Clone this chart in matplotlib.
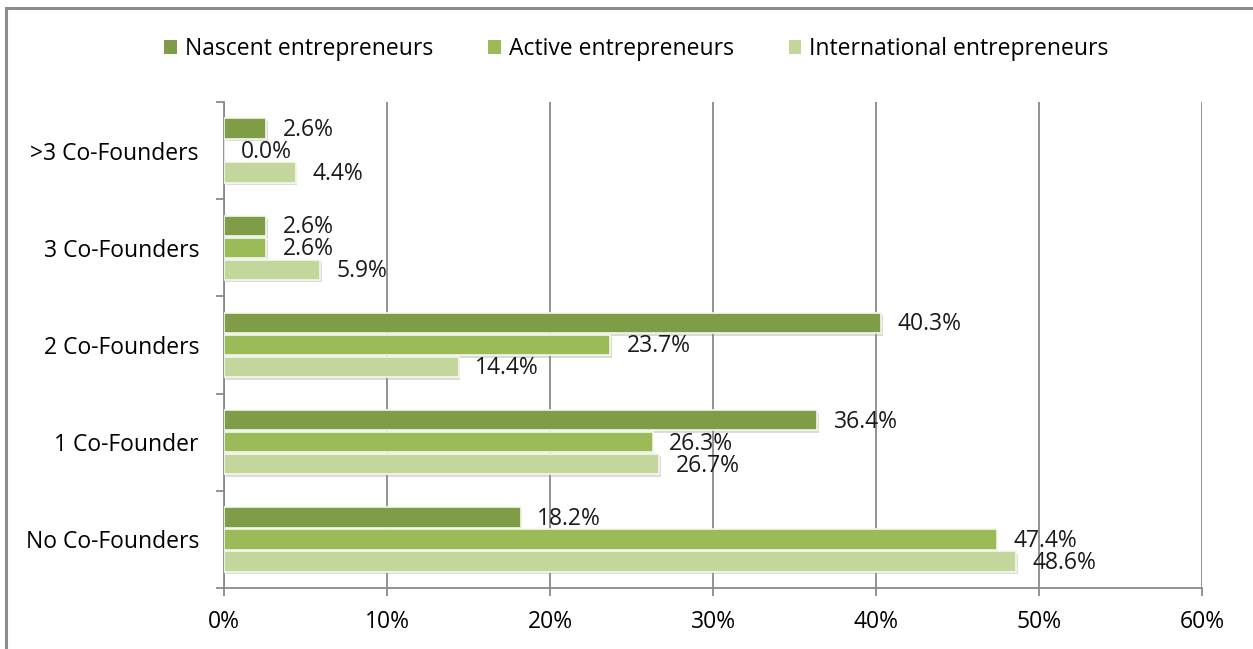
import numpy as np
import matplotlib.pyplot as plt
import matplotlib.patheffects as pe
from matplotlib.patches import Rectangle
from matplotlib.ticker import FixedLocator, FuncFormatter

plt.rcParams['font.family'] = ['Open Sans', 'DejaVu Sans']

categories = ["No Co-Founders", "1 Co-Founder", "2 Co-Founders", "3 Co-Founders", ">3 Co-Founders"]
series = ["Nascent entrepreneurs", "Active entrepreneurs", "International entrepreneurs"]
nascent = [18.2, 36.4, 40.3, 2.6, 2.6]
active = [47.4, 26.3, 23.7, 2.6, 0.0]
international = [48.6, 26.7, 14.4, 5.9, 4.4]
colors = ["#7f9c47", "#9bbb59", "#c3d69b"]

FS = 16.5

fig = plt.figure(figsize=(12.53, 6.49), dpi=100)
ax = fig.add_axes([224 / 1253, 1 - 588 / 649, (1202 - 224) / 1253, (588 - 102) / 649])

# outer frame of the chart area
fig.patches.append(Rectangle((6 / 1253, -0.1), 1.2, 1 - 8 / 649 + 0.1, transform=fig.transFigure,
                             fill=False, edgecolor="#8c8c8c", linewidth=2.2, zorder=0))

y = np.arange(len(categories))
pitch = 0.226
height = 0.21
shadow = [pe.SimplePatchShadow(offset=(1.2, -1.8), shadow_rgbFace="#999999", alpha=0.35), pe.Normal()]

for i, (vals, col) in enumerate(zip([nascent, active, international], colors)):
    pos = y + pitch * (1 - i)
    bars = ax.barh(pos, vals, height=height, color=col, edgecolor="#f4f8ec", linewidth=1.2, zorder=3)
    for b in bars:
        b.set_path_effects(shadow)
    for p, v in zip(pos, vals):
        ax.annotate(f"{v:.1f}%", (v, p), xytext=(12, -1), textcoords="offset points",
                    ha="left", va="center", fontsize=FS, color="#1a1a1a", zorder=4)

ax.set_xlim(0, 60)
ax.set_ylim(-0.5, len(categories) - 0.5)
ax.set_xticks(np.arange(0, 61, 10))
ax.xaxis.set_major_formatter(FuncFormatter(lambda v, _: f"{v:.0f}%"))
ax.set_yticks(y)
ax.set_yticklabels(categories)
ax.yaxis.set_minor_locator(FixedLocator(np.arange(-0.5, len(categories), 1.0)))

ax.grid(axis="x", color="#8a8a8a", linewidth=1.3, zorder=1)
ax.set_axisbelow(True)
for s in ["top", "right"]:
    ax.spines[s].set_visible(False)
for s in ["left", "bottom"]:
    ax.spines[s].set_color("#8a8a8a")
    ax.spines[s].set_linewidth(1.3)

ax.tick_params(axis="x", length=6, width=1.3, color="#8a8a8a", pad=10, labelsize=FS)
ax.tick_params(axis="y", which="major", length=0, pad=18, labelsize=FS)
ax.tick_params(axis="y", which="minor", length=6, width=1.3, color="#8a8a8a")

handles = [Rectangle((0, 0), 1, 1, facecolor=c, edgecolor="none") for c in colors]
fig.legend(handles=handles, labels=series, loc="center", bbox_to_anchor=(0.508, 1 - 49 / 649),
           ncol=3, frameon=False, fontsize=FS, handlelength=0.55, handleheight=0.55,
           handletextpad=0.35, columnspacing=2.4)

fig.savefig("out.png", dpi=100)
